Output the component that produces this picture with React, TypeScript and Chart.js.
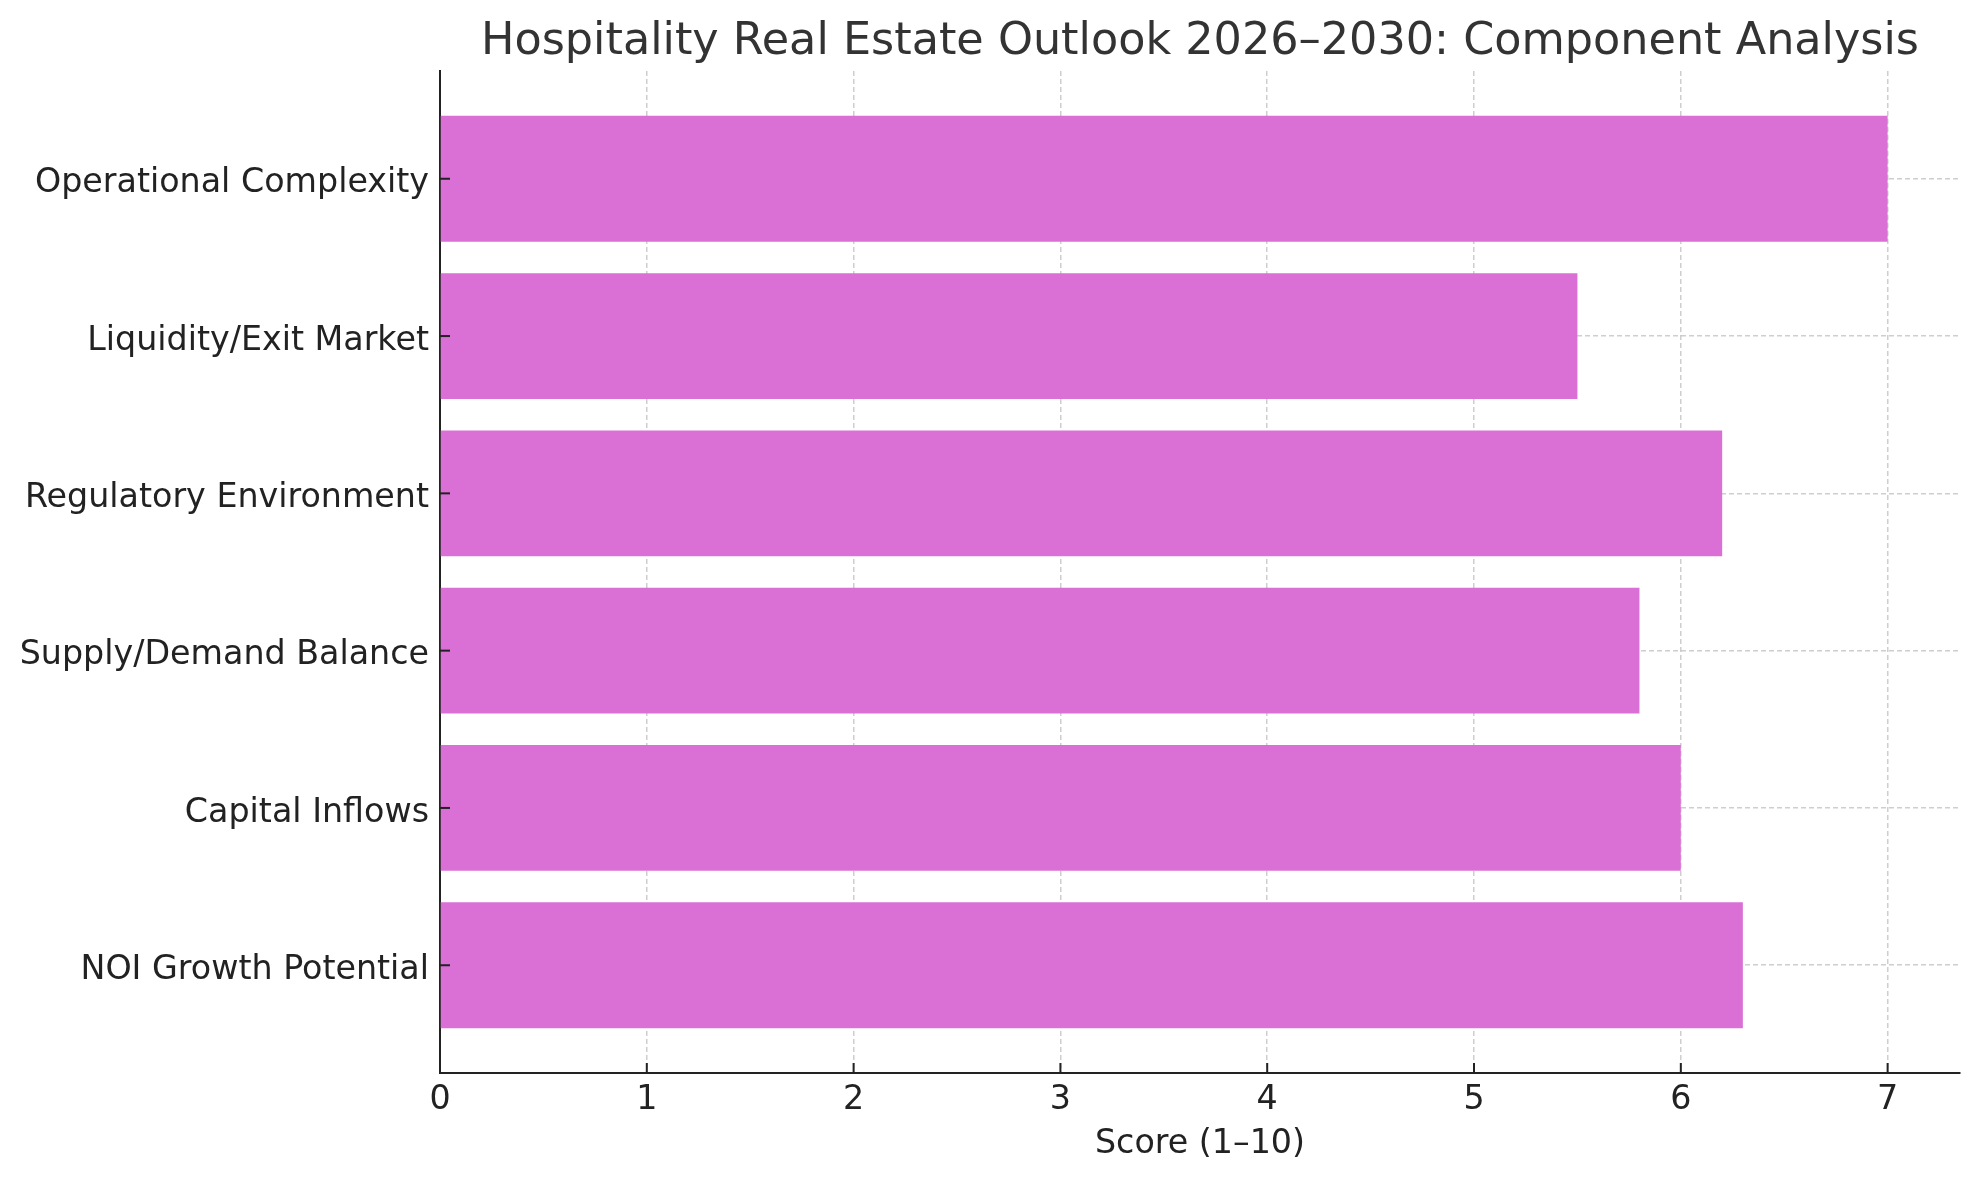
import React, { useEffect, useRef } from "react";
import { Chart, registerables } from "chart.js";

Chart.register(...registerables);

const categories = [
  "Operational Complexity",
  "Liquidity/Exit Market",
  "Regulatory Environment",
  "Supply/Demand Balance",
  "Capital Inflows",
  "NOI Growth Potential",
];
const scores = [7.0, 5.5, 6.2, 5.8, 6.0, 6.3];
const xTicks = [0, 1, 2, 3, 4, 5, 6, 7];
const chartTitle = "Hospitality Real Estate Outlook 2026–2030: Component Analysis";
const xAxisLabel = "Score (1–10)";

const W = 1979;
const H = 1180;
const FONT = "'DejaVu Sans', sans-serif";

export default function App() {
  const ref = useRef<HTMLCanvasElement | null>(null);

  useEffect(() => {
    if (!ref.current) return;

    const textPlugin = {
      id: "mplText",
      afterDraw(chart: any) {
        const { ctx, chartArea } = chart;
        const cx = (chartArea.left + chartArea.right) / 2;
        ctx.save();
        ctx.textAlign = "center";
        ctx.textBaseline = "alphabetic";
        ctx.fillStyle = "#333333";
        ctx.font = `44.5px ${FONT}`;
        ctx.fillText(chartTitle, cx, chartArea.top - 17);
        ctx.fillStyle = "#222222";
        ctx.font = `33.3px ${FONT}`;
        ctx.fillText(xAxisLabel, cx, chartArea.bottom + 80);
        // inward tick marks
        ctx.strokeStyle = "#222222";
        ctx.lineWidth = 2;
        const xs = chart.scales.x;
        const ys = chart.scales.y;
        xs.ticks.forEach((_t: any, i: number) => {
          const px = xs.getPixelForTick(i);
          ctx.beginPath();
          ctx.moveTo(px, chartArea.bottom);
          ctx.lineTo(px, chartArea.bottom - 10);
          ctx.stroke();
        });
        ys.ticks.forEach((_t: any, i: number) => {
          const py = ys.getPixelForTick(i);
          ctx.beginPath();
          ctx.moveTo(chartArea.left, py);
          ctx.lineTo(chartArea.left + 10, py);
          ctx.stroke();
        });
        ctx.restore();
      },
    };

    const chart = new Chart(ref.current, {
      type: "bar",
      data: {
        datasets: [
          {
            data: scores.map((v, i) => ({ x: v, y: i })),
            backgroundColor: "#DA70D6",
            borderWidth: 0,
            barPercentage: 0.8,
            categoryPercentage: 1.0,
          },
        ],
      },
      options: {
        indexAxis: "y",
        animation: false,
        responsive: false,
        maintainAspectRatio: false,
        layout: { padding: { top: 71, right: 19, bottom: 0, left: 0 } },
        plugins: {
          legend: { display: false },
          title: { display: false },
          tooltip: { enabled: false },
        },
        scales: {
          x: {
            type: "linear",
            position: "bottom",
            min: 0,
            max: 7.35,
            offset: false,
            z: 1,
            afterBuildTicks: (scale: any) => {
              scale.ticks = xTicks.map((v) => ({ value: v }));
            },
            afterFit: (scale: any) => {
              scale.height = H - 1073;
            },
            ticks: {
              color: "#222222",
              font: { family: FONT, size: 33.3 },
              padding: 7,
              maxRotation: 0,
              autoSkip: false,
            },
            grid: {
              offset: false,
              color: "rgba(190,190,190,0.75)",
              lineWidth: 1.5,
              drawTicks: false,
            },
            border: {
              display: true,
              color: "#222222",
              width: 2,
              dash: [5, 3],
            },
          },
          y: {
            type: "linear",
            position: "left",
            reverse: true,
            offset: false,
            min: -0.685,
            max: categories.length - 1 + 0.685,
            z: 1,
            afterBuildTicks: (scale: any) => {
              scale.ticks = categories.map((_c, i) => ({ value: i }));
            },
            afterFit: (scale: any) => {
              scale.width = 440;
            },
            ticks: {
              color: "#222222",
              font: { family: FONT, size: 33.3 },
              padding: 11,
              labelOffset: 5,
              autoSkip: false,
              callback: (v: any) => categories[Math.round(Number(v))] ?? "",
            },
            grid: {
              offset: false,
              color: "rgba(190,190,190,0.75)",
              lineWidth: 1.5,
              drawTicks: false,
            },
            border: {
              display: true,
              color: "#222222",
              width: 2,
              dash: [5, 3],
            },
          },
        },
      },
      plugins: [textPlugin],
    } as any);

    return () => chart.destroy();
  }, []);

  return (
    <div style={{ position: "fixed", left: 0, top: 0, width: W, height: H, background: "#ffffff" }}>
      <canvas ref={ref} width={W} height={H} style={{ width: W, height: H, display: "block" }} />
    </div>
  );
}
